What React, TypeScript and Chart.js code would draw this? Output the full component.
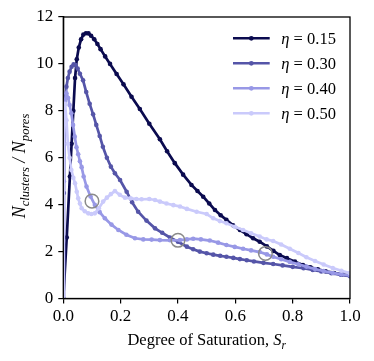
import React, { useEffect, useRef } from "react";
import { Chart, registerables } from "chart.js";

Chart.register(...registerables);

// ---- data ----
const etaLabels = ["0.15", "0.30", "0.40", "0.50"];
const seriesColors = ["#0b0b4f", "#5555a8", "#9898e6", "#cacafb"];

const sr015 = [0, 0.012, 0.023, 0.029, 0.035, 0.041, 0.047, 0.054, 0.062, 0.07, 0.079, 0.088, 0.097, 0.108, 0.119, 0.13, 0.146, 0.163, 0.186, 0.21, 0.238, 0.267, 0.3, 0.337, 0.362, 0.389, 0.418, 0.447, 0.468, 0.488, 0.509, 0.529, 0.549, 0.569, 0.592, 0.616, 0.639, 0.662, 0.685, 0.71, 0.733, 0.755, 0.78, 0.808, 0.836, 0.862, 0.888, 0.915, 0.944, 0.972, 1.0];
const n015 = [0, 2.6, 5.2, 6.6, 8.0, 9.4, 10.2, 10.7, 11.05, 11.25, 11.31, 11.3, 11.2, 11.05, 10.85, 10.63, 10.32, 10.0, 9.57, 9.13, 8.6, 8.08, 7.45, 6.79, 6.28, 5.77, 5.28, 4.84, 4.58, 4.34, 4.05, 3.77, 3.55, 3.35, 3.12, 2.92, 2.74, 2.57, 2.42, 2.22, 2.03, 1.85, 1.72, 1.57, 1.43, 1.33, 1.24, 1.16, 1.09, 1.03, 0.97];

const sr030 = [0, 0.002, 0.005, 0.011, 0.016, 0.022, 0.029, 0.036, 0.043, 0.05, 0.058, 0.069, 0.08, 0.092, 0.104, 0.115, 0.127, 0.138, 0.152, 0.166, 0.18, 0.198, 0.221, 0.24, 0.261, 0.29, 0.32, 0.345, 0.372, 0.4, 0.431, 0.453, 0.476, 0.5, 0.523, 0.547, 0.569, 0.593, 0.616, 0.64, 0.665, 0.698, 0.732, 0.765, 0.8, 0.838, 0.87, 0.9, 0.935, 0.968, 1.0];
const n030 = [0, 4.5, 8.3, 9.03, 9.4, 9.67, 9.88, 9.98, 9.95, 9.8, 9.58, 9.3, 8.8, 8.3, 7.85, 7.4, 6.93, 6.47, 6.0, 5.62, 5.34, 5.05, 4.55, 4.1, 3.7, 3.32, 2.99, 2.8, 2.6, 2.42, 2.21, 2.1, 2.0, 1.93, 1.87, 1.82, 1.78, 1.73, 1.68, 1.63, 1.58, 1.52, 1.47, 1.41, 1.35, 1.29, 1.22, 1.15, 1.08, 1.01, 0.95];

const sr040 = [0, 0.002, 0.005, 0.011, 0.017, 0.022, 0.028, 0.034, 0.04, 0.046, 0.052, 0.058, 0.064, 0.071, 0.081, 0.095, 0.11, 0.127, 0.145, 0.168, 0.192, 0.22, 0.25, 0.279, 0.308, 0.337, 0.372, 0.407, 0.431, 0.453, 0.48, 0.511, 0.54, 0.569, 0.598, 0.627, 0.655, 0.685, 0.71, 0.732, 0.76, 0.79, 0.82, 0.848, 0.878, 0.908, 0.94, 0.97, 1.0];
const n040 = [0, 5.0, 8.4, 8.75, 8.55, 8.25, 7.9, 7.4, 6.9, 6.45, 6.15, 5.85, 5.6, 5.2, 4.77, 4.35, 3.99, 3.68, 3.42, 3.15, 2.92, 2.72, 2.57, 2.52, 2.51, 2.49, 2.48, 2.49, 2.52, 2.55, 2.52, 2.47, 2.38, 2.28, 2.2, 2.12, 2.05, 1.98, 1.88, 1.78, 1.67, 1.56, 1.46, 1.36, 1.26, 1.17, 1.09, 1.03, 0.98];

const sr050 = [0, 0.001, 0.003, 0.006, 0.011, 0.016, 0.022, 0.028, 0.035, 0.041, 0.047, 0.052, 0.058, 0.064, 0.075, 0.087, 0.098, 0.11, 0.124, 0.139, 0.152, 0.166, 0.18, 0.197, 0.215, 0.235, 0.255, 0.273, 0.3, 0.32, 0.337, 0.36, 0.384, 0.407, 0.431, 0.465, 0.5, 0.523, 0.546, 0.569, 0.598, 0.627, 0.655, 0.685, 0.709, 0.732, 0.76, 0.79, 0.82, 0.848, 0.878, 0.908, 0.94, 0.97, 1.0];
const n050 = [0, 4.0, 7.8, 8.3, 7.6, 6.6, 6.0, 5.48, 5.15, 4.91, 4.55, 4.27, 4.05, 3.85, 3.72, 3.63, 3.6, 3.63, 3.85, 4.13, 4.3, 4.45, 4.58, 4.42, 4.3, 4.27, 4.24, 4.23, 4.24, 4.2, 4.13, 4.05, 3.98, 3.92, 3.82, 3.7, 3.6, 3.42, 3.3, 3.21, 3.06, 2.92, 2.78, 2.64, 2.52, 2.45, 2.3, 2.12, 1.94, 1.76, 1.6, 1.45, 1.3, 1.18, 1.08];

const circleSr = [0.1, 0.4, 0.705];
const circleN = [4.15, 2.48, 1.92];

const xTicks = [0, 0.2, 0.4, 0.6, 0.8, 1.0];
const yTicks = [0, 2, 4, 6, 8, 10, 12];

const FONT = "'Liberation Serif', 'Times New Roman', serif";

const toPts = (xs: number[], ys: number[]) => xs.map((x, i) => ({ x, y: ys[i] }));

type Part = { text: string; size: number; italic?: boolean; dy?: number };

function richWidth(ctx: CanvasRenderingContext2D, parts: Part[]) {
  let w = 0;
  for (const p of parts) {
    ctx.font = `${p.italic ? "italic " : ""}${p.size}px ${FONT}`;
    w += ctx.measureText(p.text).width;
  }
  return w;
}

function drawRich(ctx: CanvasRenderingContext2D, parts: Part[], x: number, y: number) {
  let cx = x;
  for (const p of parts) {
    ctx.font = `${p.italic ? "italic " : ""}${p.size}px ${FONT}`;
    ctx.fillText(p.text, cx, y + (p.dy || 0));
    cx += ctx.measureText(p.text).width;
  }
}

const decorPlugin = {
  id: "decor",
  afterDraw(chart: any) {
    const ctx: CanvasRenderingContext2D = chart.ctx;
    const { left, right, top, bottom } = chart.chartArea;
    ctx.save();
    // frame
    ctx.strokeStyle = "#000";
    ctx.lineWidth = 1.3;
    ctx.strokeRect(left, top, right - left, bottom - top);

    ctx.fillStyle = "#000";
    ctx.textBaseline = "alphabetic";
    ctx.textAlign = "left";
    // x title
    const xParts: Part[] = [
      { text: "Degree of Saturation, ", size: 16.5 },
      { text: "S", size: 16.5, italic: true },
      { text: "r", size: 11.5, italic: true, dy: 3.5 },
    ];
    const xw = richWidth(ctx, xParts);
    drawRich(ctx, xParts, (left + right) / 2 - xw / 2, 345);

    // y title
    const yParts: Part[] = [
      { text: "N", size: 18, italic: true },
      { text: "clusters", size: 12.6, italic: true, dy: 3.8 },
      { text: " / ", size: 18, italic: true },
      { text: "N", size: 18, italic: true },
      { text: "pores", size: 12.6, italic: true, dy: 3.8 },
    ];
    const yw = richWidth(ctx, yParts);
    ctx.save();
    ctx.translate(25, 166);
    ctx.rotate(-Math.PI / 2);
    drawRich(ctx, yParts, -yw / 2, 0);
    ctx.restore();

    // legend
    const rowY = [38.3, 63.3, 88.3, 113.3];
    etaLabels.forEach((lab, i) => {
      const y = rowY[i];
      ctx.strokeStyle = seriesColors[i];
      ctx.lineWidth = 2.6;
      ctx.beginPath();
      ctx.moveTo(233, y);
      ctx.lineTo(269.7, y);
      ctx.stroke();
      ctx.fillStyle = seriesColors[i];
      ctx.beginPath();
      ctx.arc(251.3, y, 2.4, 0, Math.PI * 2);
      ctx.fill();
      ctx.fillStyle = "#000";
      ctx.textBaseline = "middle";
      drawRich(
        ctx,
        [
          { text: "\u03b7", size: 16.5, italic: true },
          { text: " = " + lab, size: 16.5 },
        ],
        281.3,
        y + 1
      );
      ctx.textBaseline = "alphabetic";
    });
    ctx.restore();
  },
};

export default function App() {
  const ref = useRef<HTMLCanvasElement | null>(null);
  useEffect(() => {
    if (!ref.current) return;
    const raw = [
      [sr015, n015],
      [sr030, n030],
      [sr040, n040],
      [sr050, n050],
    ];
    const datasets: any[] = raw.map(([xs, ys], i) => ({
      label: "\u03b7 = " + etaLabels[i],
      data: toPts(xs, ys),
      showLine: true,
      borderColor: seriesColors[i],
      backgroundColor: seriesColors[i],
      borderWidth: 2.7,
      pointRadius: 2.3,
      pointBorderWidth: 0,
      pointBackgroundColor: seriesColors[i],
      order: 4 - i,
    }));
    datasets.push({
      label: "markers",
      data: toPts(circleSr, circleN),
      showLine: false,
      pointRadius: 6.8,
      pointBorderWidth: 1.5,
      pointBorderColor: "#8a8a8a",
      pointBackgroundColor: "rgba(0,0,0,0)",
      order: 0,
    });
    const tickFont = { family: FONT, size: 17 };
    const chart = new Chart(ref.current, {
      type: "scatter",
      data: { datasets },
      options: {
        animation: false,
        responsive: true,
        maintainAspectRatio: false,
        layout: { padding: { top: 17, right: 24, left: 0, bottom: 0 } },
        plugins: { legend: { display: false }, tooltip: { enabled: false } },
        scales: {
          x: {
            type: "linear",
            min: 0,
            max: 1,
            afterBuildTicks: (s: any) => {
              s.ticks = xTicks.map((v) => ({ value: v }));
            },
            ticks: {
              color: "#000",
              font: tickFont,
              padding: 3,
              maxRotation: 0,
              callback: (v: any) => Number(v).toFixed(1),
            },
            grid: { display: true, drawOnChartArea: false, drawTicks: true, tickLength: 5, color: "#000", lineWidth: 1.2 },
            border: { display: true, color: "#000", width: 1.3 },
            afterFit: (s: any) => {
              s.height = 62.5;
            },
          },
          y: {
            type: "linear",
            min: 0,
            max: 12,
            afterBuildTicks: (s: any) => {
              s.ticks = yTicks.map((v) => ({ value: v }));
            },
            ticks: {
              color: "#000",
              font: tickFont,
              padding: 5,
              callback: (v: any) => String(v),
            },
            grid: { display: true, drawOnChartArea: false, drawTicks: true, tickLength: 5, color: "#000", lineWidth: 1.2 },
            border: { display: true, color: "#000", width: 1.3 },
            afterFit: (s: any) => {
              s.width = 63.3;
            },
          },
        },
      },
      plugins: [decorPlugin],
    } as any);
    return () => chart.destroy();
  }, []);
  return (
    <div style={{ position: "absolute", left: 0, top: 0, width: 374, height: 361, background: "#fff" }}>
      <canvas ref={ref} />
    </div>
  );
}
